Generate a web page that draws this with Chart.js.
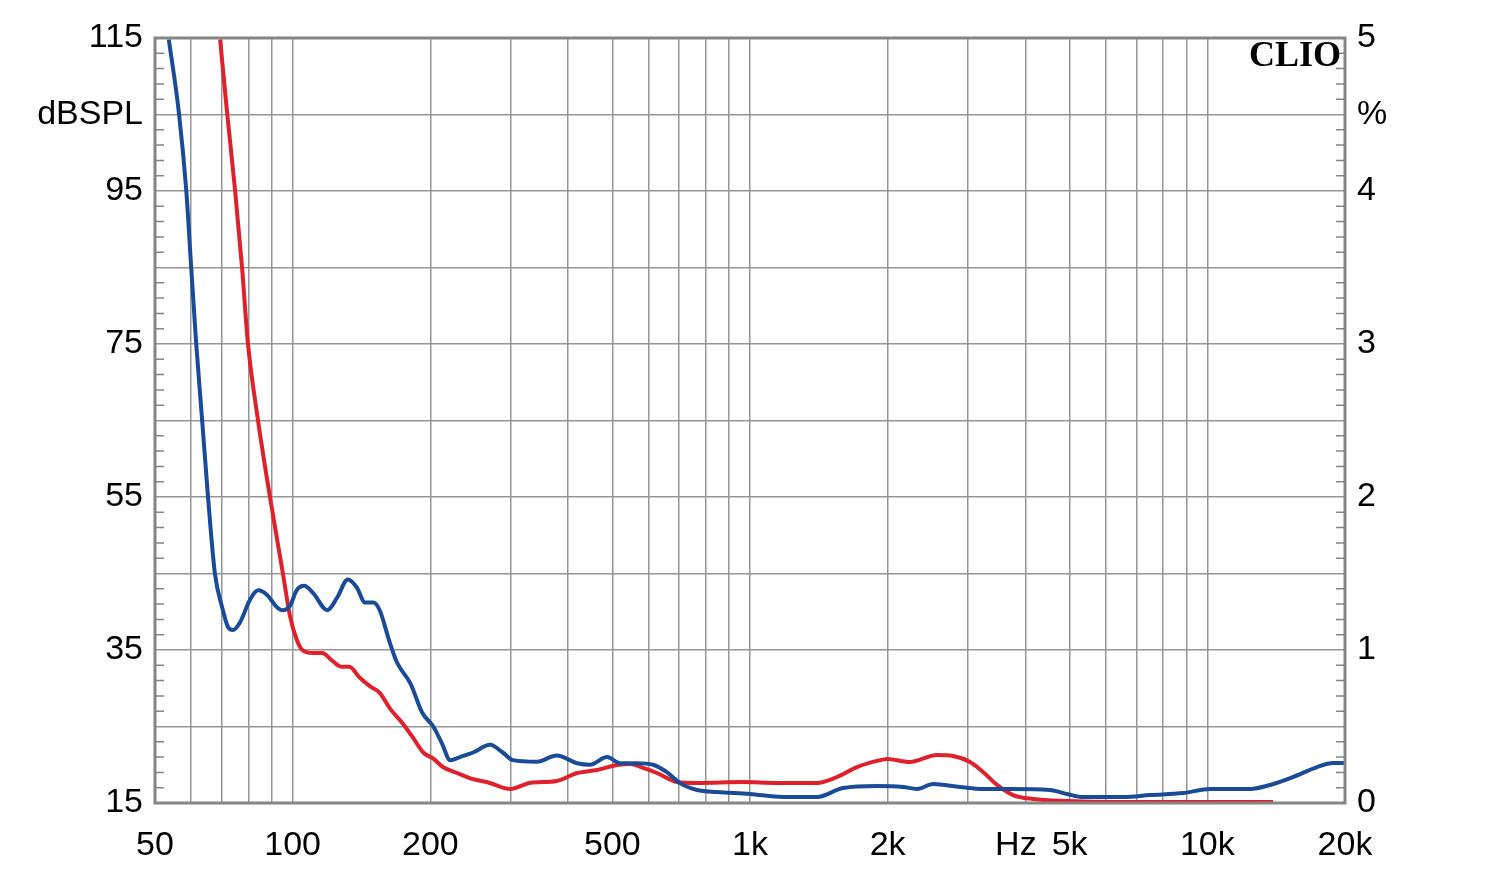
<!DOCTYPE html>
<html lang="en">
<head>
<meta charset="UTF-8">
<title>CLIO distortion</title>
<script src="https://cdn.jsdelivr.net/npm/chart.js"></script>
<style>
    body { margin: 0; background: #fff; }
    #wrap { width: 1500px; height: 882px; }
</style>
</head>
<body>
<div id="wrap"><canvas id="graph" width="1500" height="882"></canvas></div>
<script>
    // frequency grid (Hz) and labelled ticks
    const freqTicks = [50, 60, 70, 80, 90, 100, 200, 300, 400, 500, 600, 700, 800, 900,
        1000, 2000, 3000, 4000, 5000, 6000, 7000, 8000, 9000, 10000, 20000];
    const freqLabels = { 50: '50', 100: '100', 200: '200', 500: '500', 1000: '1k', 2000: '2k',
        4000: 'Hz  ', 5000: '5k', 10000: '10k', 20000: '20k' };
    const dbTicks = [15, 25, 35, 45, 55, 65, 75, 85, 95, 105, 115];
    const dbLabels = { 15: '15', 35: '35', 55: '55', 75: '75', 95: '95', 105: 'dBSPL', 115: '115' };
    const pctLabels = { 0: '0', 1: '1', 2: '2', 3: '3', 4: '4', 4.5: '%', 5: '5' };

    // blue curve (%)
    const blueFreq = [53.6, 56.4, 58.5, 60.0, 61.5, 63.4, 65.3, 67.6, 70.1, 72.2, 74.0, 76.7, 80.7, 84.0,
        87.9, 92.4, 95.2, 98.7, 102, 106, 111, 119, 125, 132, 138, 144, 150, 155, 163, 169, 181, 192,
        203, 212, 221, 232, 248, 270, 288, 303, 342, 378, 419, 447, 487, 520, 566, 614, 659, 703, 766,
        847, 1000, 1181, 1401, 1598, 1896, 2161, 2319, 2514, 2880, 3233, 3704, 4530, 4934, 5349, 6543,
        7496, 8851, 10140, 12400, 13715, 15400, 17375, 18835, 20000];
    const bluePct = [4.99, 4.51, 4.01, 3.50, 3.01, 2.50, 2.00, 1.50, 1.28, 1.15, 1.13, 1.18, 1.33, 1.39,
        1.36, 1.28, 1.26, 1.29, 1.39, 1.42, 1.37, 1.26, 1.34, 1.46, 1.41, 1.31, 1.31, 1.26, 1.05, 0.92, 0.78, 0.59,
        0.50, 0.39, 0.28, 0.30, 0.33, 0.38, 0.33, 0.28, 0.27, 0.31, 0.26, 0.25, 0.30, 0.26, 0.26, 0.25, 0.20, 0.13, 0.085,
        0.072, 0.059, 0.039, 0.039, 0.098, 0.111, 0.105, 0.092, 0.124, 0.105, 0.092, 0.092, 0.085, 0.059, 0.039, 0.039,
        0.052, 0.065, 0.092, 0.092, 0.118, 0.170, 0.235, 0.261, 0.261];

    // red curve (%)
    const redFreq = [69.4, 71.9, 74.8, 77.5, 79.8, 84.0, 89.2, 95.2, 98.7, 102, 105, 111, 116, 122, 128,
        133, 140, 148, 155, 163, 174, 183, 193, 203, 213, 229, 244, 270, 299, 330, 378, 419, 463, 512,
        547, 584, 626, 693, 766, 966, 1146, 1401, 1550, 1714, 1896, 1994, 2238, 2564, 2780, 3028, 3233,
        3469, 3760, 4159, 4934, 6349, 8851, 13927];
    const redPct = [4.99, 4.51, 4.01, 3.50, 3.01, 2.50, 2.00, 1.50, 1.22, 1.07, 1.00, 0.98, 0.98, 0.93, 0.89,
        0.89, 0.82, 0.76, 0.72, 0.62, 0.52, 0.43, 0.33, 0.29, 0.235, 0.196, 0.163, 0.131, 0.092, 0.131, 0.144, 0.196, 0.216, 0.248,
        0.255, 0.229, 0.196, 0.137, 0.131, 0.137, 0.131, 0.131, 0.170, 0.235, 0.275, 0.288, 0.268, 0.314, 0.307, 0.268, 0.203,
        0.118, 0.052, 0.026, 0.013, 0.007, 0.007, 0.007];

    const gridColor = '#959595';
    const frameColor = '#858585';
    const font = { family: 'Liberation Sans, Arial, sans-serif', size: 34 };

    function points(xs, ys) {
        return xs.map((x, i) => ({ x: x, y: ys[i] }));
    }

    // frame, inner minor ticks and the CLIO mark
    const framePlugin = {
        id: 'frame',
        afterDatasetsDraw(chart) {
            const ctx = chart.ctx;
            const a = chart.chartArea;
            const y = chart.scales.y;
            ctx.save();
            ctx.strokeStyle = frameColor;
            ctx.lineWidth = 1.5;
            for (let v = 17; v < 115; v += 2) {
                if ((v - 15) % 10 === 0) continue;
                const py = y.getPixelForValue(v);
                ctx.beginPath();
                ctx.moveTo(a.left, py); ctx.lineTo(a.left + 9, py);
                ctx.moveTo(a.right - 9, py); ctx.lineTo(a.right, py);
                ctx.stroke();
            }
            ctx.lineWidth = 3;
            ctx.strokeRect(a.left, a.top, a.right - a.left, a.bottom - a.top);
            ctx.fillStyle = '#000';
            ctx.font = 'bold 36px "Liberation Serif", "DejaVu Serif", serif';
            ctx.textAlign = 'right';
            ctx.textBaseline = 'middle';
            ctx.fillText('CLIO', a.right - 4, a.top + 19);
            ctx.restore();
        }
    };

    new Chart(document.getElementById('graph').getContext('2d'), {
        type: 'line',
        data: {
            datasets: [{
                label: 'Blue',
                data: points(blueFreq, bluePct),
                borderColor: '#1a4b99',
                borderWidth: 4,
                pointRadius: 0,
                cubicInterpolationMode: 'monotone',
                yAxisID: 'y1'
            }, {
                label: 'Red',
                data: points(redFreq, redPct),
                borderColor: '#e0202a',
                borderWidth: 4,
                pointRadius: 0,
                cubicInterpolationMode: 'monotone',
                yAxisID: 'y1'
            }]
        },
        options: {
            responsive: false,
            animation: false,
            devicePixelRatio: 1,
            layout: { padding: { top: 38, left: 0, right: 0, bottom: 0 } },
            plugins: { legend: { display: false }, tooltip: { enabled: false } },
            scales: {
                x: {
                    type: 'logarithmic',
                    min: 50,
                    max: 20000,
                    afterBuildTicks: s => { s.ticks = freqTicks.map(v => ({ value: v })); },
                    afterFit: s => { s.height = 79; },
                    grid: { color: gridColor, lineWidth: 1.5, drawTicks: false },
                    border: { display: false },
                    ticks: {
                        autoSkip: false,
                        maxRotation: 0,
                        padding: 22,
                        color: '#000',
                        font: font,
                        callback: v => freqLabels[v] || ''
                    }
                },
                y: {
                    position: 'left',
                    min: 15,
                    max: 115,
                    afterBuildTicks: s => { s.ticks = dbTicks.map(v => ({ value: v })); },
                    afterFit: s => { s.width = 155; },
                    grid: { color: gridColor, lineWidth: 1.5, drawTicks: false },
                    border: { display: false },
                    ticks: {
                        padding: 12,
                        color: '#000',
                        font: font,
                        callback: v => dbLabels[v] || ''
                    }
                },
                y1: {
                    position: 'right',
                    min: 0,
                    max: 5,
                    afterBuildTicks: s => {
                        const t = [];
                        for (let v = 0; v <= 5; v += 0.5) t.push({ value: v });
                        s.ticks = t;
                    },
                    afterFit: s => { s.width = 155; },
                    grid: { display: false, drawTicks: false },
                    border: { display: false },
                    ticks: {
                        padding: 12,
                        color: '#000',
                        font: font,
                        callback: v => pctLabels[v] || ''
                    }
                }
            }
        },
        plugins: [framePlugin]
    });
</script>
</body>
</html>
